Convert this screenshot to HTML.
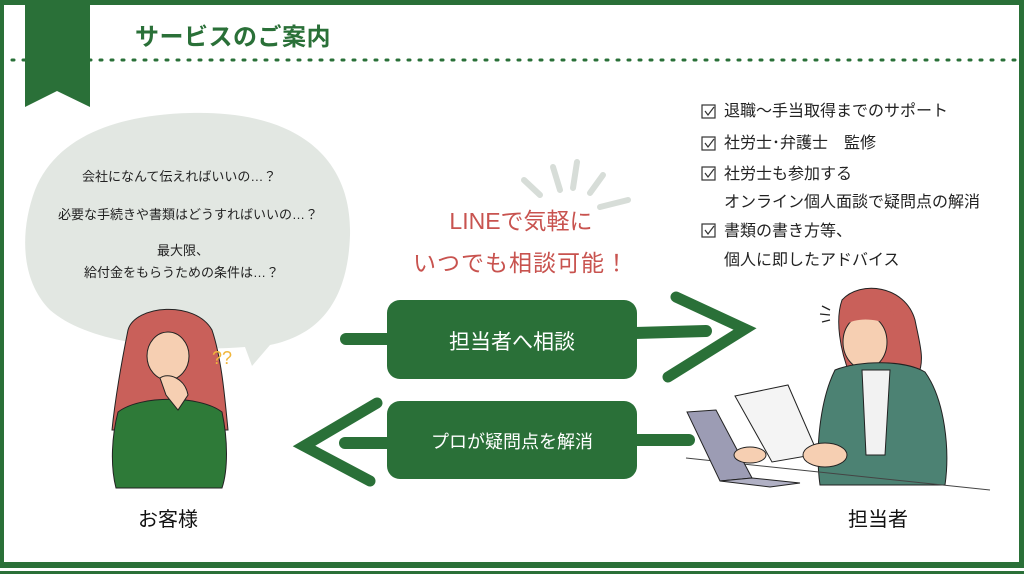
<!DOCTYPE html>
<html><head><meta charset="utf-8"><style>
html,body{margin:0;padding:0;background:#fff;}
body{width:1024px;height:576px;overflow:hidden;position:relative;font-family:"Liberation Sans","Noto Sans CJK JP",sans-serif;}
.t{position:absolute;white-space:nowrap;}
</style></head><body>
<svg width="1024" height="576" style="position:absolute;left:0;top:0">
<rect x="0" y="0" width="1024" height="5" fill="#2a7038"/>
<rect x="0" y="0" width="4" height="568" fill="#2a7038"/>
<rect x="1019" y="0" width="5" height="568" fill="#2a7038"/>
<rect x="0" y="562" width="1024" height="6" fill="#2a7038"/>
<rect x="0" y="571" width="1024" height="3" fill="#2a7038"/>
<line x1="12" y1="60" x2="1015" y2="60" stroke="#2a7038" stroke-width="3" stroke-dasharray="2 9" stroke-linecap="round"/>
<polygon points="25,0 90,0 90,107 57,91 25,107" fill="#2a7038"/>
<path d="M190,113 C300,110 352,160 350,235 C348,300 320,335 270,345 L252,366 L245,347 C180,352 90,345 50,310 C20,280 20,230 35,190 C55,140 110,115 190,113 Z" fill="#e2e7e2"/>
<g stroke="#d7ddd8" stroke-width="6" stroke-linecap="round" fill="none">
<line x1="524" y1="180" x2="540" y2="195"/>
<line x1="553" y1="167" x2="560" y2="190"/>
<line x1="577" y1="162" x2="573" y2="188"/>
<line x1="603" y1="175" x2="590" y2="193"/>
<line x1="628" y1="200" x2="600" y2="207"/>
</g>
<g stroke="#2a7038" stroke-width="12" stroke-linecap="round" fill="none">
<line x1="346" y1="339" x2="390" y2="339"/>
<line x1="635" y1="333" x2="706" y2="331"/>
<polyline points="676,297 745,329 668,377" stroke-width="11"/>
<line x1="632" y1="440" x2="689" y2="440"/>
<line x1="345" y1="443" x2="392" y2="443"/>
<polyline points="377,403 304,446 370,481" stroke-width="11"/>
</g>
<rect x="387" y="300" width="250" height="79" rx="13" fill="#2a7038"/>
<rect x="387" y="401" width="250" height="78" rx="13" fill="#2a7038"/>
<g stroke="#333" stroke-width="1.2" fill="none">
<rect x="702" y="105" width="13" height="13"/><polyline points="705,111 708,115 714,107"/>
<rect x="702" y="137" width="13" height="13"/><polyline points="705,143 708,147 714,139"/>
<rect x="702" y="167" width="13" height="13"/><polyline points="705,173 708,177 714,169"/>
<rect x="702" y="224" width="13" height="13"/><polyline points="705,230 708,234 714,226"/>
</g>
<path d="M128,330 C135,305 195,300 212,330 C222,360 225,400 228,430 L112,430 C115,400 122,360 128,330 Z" fill="#c9605a" stroke="#222" stroke-width="1"/>
<ellipse cx="168" cy="356" rx="21" ry="24" fill="#f6cfb2" stroke="#222" stroke-width="1"/>
<path d="M140,330 C150,315 190,315 198,335 C185,330 160,328 140,340 Z" fill="#c9605a"/>
<path d="M118,412 C140,395 200,395 222,412 C228,440 228,470 222,488 L116,488 C110,465 112,435 118,412 Z" fill="#2e7a38" stroke="#222" stroke-width="1"/>
<path d="M160,378 C168,372 185,378 188,395 L178,410 L166,395 Z" fill="#f6cfb2" stroke="#222" stroke-width="1"/>
<text x="212" y="364" font-size="18" fill="#f0b63c" font-family="Liberation Sans">??</text>
<path d="M842,300 C860,280 905,285 915,320 C920,345 925,360 918,375 L850,375 C840,350 835,320 842,300 Z" fill="#c9605a" stroke="#222" stroke-width="1"/>
<ellipse cx="865" cy="342" rx="22" ry="27" fill="#f6cfb2" stroke="#222" stroke-width="1"/>
<path d="M845,310 C860,295 895,300 900,330 C885,320 860,315 845,325 Z" fill="#c9605a"/>
<path d="M835,370 C860,360 905,360 925,372 C945,400 950,450 945,485 L820,485 C815,450 820,400 835,370 Z" fill="#4c8273" stroke="#222" stroke-width="1"/>
<polygon points="862,370 890,370 885,455 866,455" fill="#f2f2f2" stroke="#222" stroke-width="1"/>
<line x1="686" y1="458" x2="990" y2="490" stroke="#444" stroke-width="1"/>
<polygon points="687,412 716,410 752,478 720,481" fill="#9c9cb4" stroke="#222" stroke-width="1"/>
<polygon points="720,481 752,478 800,483 770,487" fill="#b0b0c4" stroke="#222" stroke-width="1"/>
<polygon points="735,396 788,385 818,454 772,462" fill="#f4f4f4" stroke="#222" stroke-width="1"/>
<ellipse cx="825" cy="455" rx="22" ry="12" fill="#f6cfb2" stroke="#222" stroke-width="1"/>
<ellipse cx="750" cy="455" rx="16" ry="8" fill="#f6cfb2" stroke="#222" stroke-width="1"/>
<g stroke="#222" stroke-width="1.3"><line x1="822" y1="306" x2="830" y2="310"/><line x1="820" y1="314" x2="830" y2="315"/><line x1="822" y1="322" x2="830" y2="320"/></g>
</svg>
<div class="t" style="left:135px;top:17px;font-size:24px;font-weight:bold;color:#2a7038;letter-spacing:0.5px">サービスのご案内</div>
<div class="t" style="left:82px;top:166px;font-size:13px;color:#222">会社になんて伝えればいいの…？</div>
<div class="t" style="left:58px;top:204px;font-size:13px;color:#222">必要な手続きや書類はどうすればいいの…？</div>
<div class="t" style="left:157px;top:240px;font-size:13px;color:#222">最大限、</div>
<div class="t" style="left:84px;top:262px;font-size:13px;color:#222">給付金をもらうための条件は…？</div>
<div class="t" style="left:420px;top:202px;width:202px;text-align:center;font-size:23px;color:#c8534f">LINEで気軽に</div>
<div class="t" style="left:400px;top:244px;width:242px;text-align:center;font-size:23px;color:#c8534f;letter-spacing:1px">いつでも相談可能！</div>
<div class="t" style="left:387px;top:326px;width:250px;text-align:center;font-size:21px;color:#fff">担当者へ相談</div>
<div class="t" style="left:387px;top:428px;width:250px;text-align:center;font-size:18px;color:#fff">プロが疑問点を解消</div>
<div class="t" style="left:724px;top:97px;font-size:16px;color:#222">退職～手当取得までのサポート</div>
<div class="t" style="left:724px;top:129px;font-size:16px;color:#222">社労士･弁護士　監修</div>
<div class="t" style="left:724px;top:160px;font-size:16px;color:#222">社労士も参加する</div>
<div class="t" style="left:724px;top:188px;font-size:16px;color:#222">オンライン個人面談で疑問点の解消</div>
<div class="t" style="left:724px;top:217px;font-size:16px;color:#222">書類の書き方等、</div>
<div class="t" style="left:724px;top:246px;font-size:16px;color:#222">個人に即したアドバイス</div>
<div class="t" style="left:138px;top:503px;font-size:20px;color:#111">お客様</div>
<div class="t" style="left:848px;top:503px;font-size:20px;color:#111">担当者</div>
</body></html>
